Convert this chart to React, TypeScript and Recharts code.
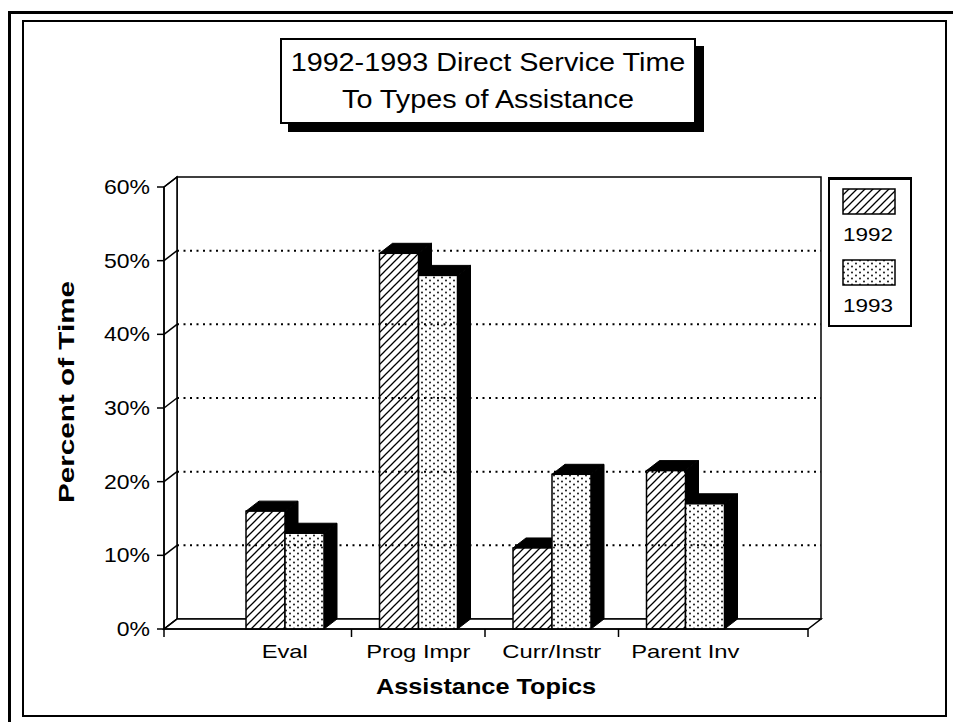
import React from "react"
import {
  Bar,
  BarChart,
  Label,
  Legend,
  ReferenceArea,
  ReferenceLine,
  XAxis,
  YAxis,
} from "recharts"

const topics = ["Eval", "Prog Impr", "Curr/Instr", "Parent Inv"]
const time1992 = [16, 51, 11, 21.5]
const time1993 = [13, 48, 21, 17]
const percentTicks = [0, 10, 20, 30, 40, 50, 60]

const chartData = topics.map((topic, i) => ({
  topic,
  y1992: time1992[i],
  y1993: time1993[i],
}))

const FONT = '"Liberation Sans", Arial, Helvetica, sans-serif'
const W = 953
const H = 722
const MARGIN = { top: 187, right: 145, bottom: 63, left: 104 }
const Y_AXIS_W = 60
const X_AXIS_H = 30
const X_PAD = { left: 54, right: 56 }
const PLOT_W = W - MARGIN.left - Y_AXIS_W - MARGIN.right
const HALF_BAND = (PLOT_W - X_PAD.left - X_PAD.right) / topics.length / 2
// depth of the 3-d look
const DX = 13
const DY = -10

function Patterns() {
  return (
    <svg width={0} height={0} style={{ position: "absolute" }}>
      <defs>
        <pattern id="hatch" patternUnits="userSpaceOnUse" width={8} height={8}>
          <rect width={8} height={8} fill="#fff" />
          <path d="M-2,2 l4,-4 M0,8 l8,-8 M6,10 l4,-4" stroke="#000" strokeWidth={1.3} />
        </pattern>
        <pattern id="dots" patternUnits="userSpaceOnUse" width={8} height={6}>
          <rect width={8} height={6} fill="#fff" />
          <circle cx={2} cy={1.5} r={0.9} fill="#000" />
          <circle cx={6} cy={4.5} r={0.9} fill="#000" />
        </pattern>
      </defs>
    </svg>
  )
}

function Bar3D(props: any) {
  const { x, y, width, height, fill } = props
  if (!height || height <= 0) return null
  const top = `M${x},${y} L${x + DX},${y + DY} L${x + width + DX},${y + DY} L${x + width},${y} Z`
  const side = `M${x + width},${y} L${x + width + DX},${y + DY} L${x + width + DX},${y + height + DY} L${x + width},${y + height} Z`
  return (
    <g>
      <path d={side} fill="#000" stroke="#000" strokeWidth={1} />
      <path d={top} fill="#000" stroke="#000" strokeWidth={1} />
      <rect x={x} y={y} width={width} height={height} fill={fill} stroke="#000" strokeWidth={1.5} />
    </g>
  )
}

// reference area spans the category range only, so widen it by the axis padding
function Walls(props: any) {
  const { y, height } = props
  const x = props.x - X_PAD.left
  const width = props.width + X_PAD.left + X_PAD.right
  const bottom = y + height
  return (
    <g stroke="#000" strokeWidth={1.5}>
      <rect x={x + DX} y={y + DY} width={width} height={height} fill="#fff" />
      <path
        d={`M${x},${y} L${x + DX},${y + DY} L${x + DX},${bottom + DY} L${x},${bottom} Z`}
        fill="#fff"
      />
      <path
        d={`M${x},${bottom} L${x + DX},${bottom + DY} L${x + width + DX},${bottom + DY} L${x + width},${bottom} Z`}
        fill="#fff"
      />
      <line x1={x} y1={bottom} x2={x} y2={bottom + 8} />
      <line x1={x + width} y1={bottom} x2={x + width} y2={bottom + 8} />
    </g>
  )
}

function WallLine(props: any) {
  const { x1, y1, x2, y2, dotted } = props
  return (
    <g>
      <line x1={x1} y1={y1} x2={x1 + DX} y2={y1 + DY} stroke="#000" strokeWidth={1.5} />
      {dotted && (
        <line
          x1={x1 + DX}
          y1={y1 + DY}
          x2={x2 + DX}
          y2={y2 + DY}
          stroke="#000"
          strokeWidth={2}
          strokeDasharray="2 4.5"
        />
      )}
    </g>
  )
}

function PercentTick(props: any) {
  const { x, y, payload } = props
  return (
    <text
      transform={`translate(${x},${y}) scale(1.15,1)`}
      textAnchor="end"
      dominantBaseline="central"
      fontFamily={FONT}
      fontSize={20}
      fill="#000"
    >
      {`${payload.value}%`}
    </text>
  )
}

function TopicTick(props: any) {
  const { x, y, payload, index } = props
  return (
    <g>
      {index < topics.length - 1 && (
        <line
          x1={x + HALF_BAND}
          y1={y}
          x2={x + HALF_BAND}
          y2={y + 8}
          stroke="#000"
          strokeWidth={1.5}
        />
      )}
      <text
        transform={`translate(${x},${y + 23}) scale(1.25,1)`}
        textAnchor="middle"
        dominantBaseline="central"
        fontFamily={FONT}
        fontSize={19}
        fill="#000"
      >
        {payload.value}
      </text>
    </g>
  )
}

function LegendBox({ payload }: any) {
  return (
    <div
      style={{
        boxSizing: "border-box",
        width: 84,
        height: 150,
        border: "2px solid #000",
        borderTopWidth: 3,
        background: "#fff",
        paddingTop: 8,
        fontFamily: FONT,
      }}
    >
      {(payload || []).map((entry: any) => (
        <div key={entry.value} style={{ textAlign: "center", marginBottom: 4 }}>
          <svg width={54} height={27} style={{ display: "block", margin: "0 auto 0 12px" }}>
            <rect x={1} y={1} width={52} height={25} fill={entry.color} stroke="#000" strokeWidth={1.5} />
          </svg>
          <div
            style={{
              fontSize: 18,
              height: 40,
              lineHeight: "40px",
              transform: "scaleX(1.25)",
              marginLeft: -4,
            }}
          >
            {entry.value}
          </div>
        </div>
      ))}
    </div>
  )
}

function TitleBox() {
  return (
    <div
      style={{
        position: "absolute",
        left: 280,
        top: 38,
        width: 416,
        height: 86,
        boxSizing: "border-box",
        border: "2px solid #000",
        boxShadow: "8px 8px 0 0 #000",
        background: "#fff",
        fontFamily: FONT,
        fontSize: 25,
        lineHeight: "37px",
        textAlign: "center",
        paddingTop: 4,
        zIndex: 2,
      }}
    >
      <div style={{ transform: "scaleX(1.15)", whiteSpace: "nowrap" }}>1992-1993 Direct Service Time</div>
      <div style={{ transform: "scaleX(1.15)", whiteSpace: "nowrap" }}>To Types of Assistance</div>
    </div>
  )
}

export default function App() {
  return (
    <div style={{ position: "absolute", left: 0, top: 0, width: W, height: H, background: "#fff", overflow: "hidden" }}>
      <Patterns />
      {/* page frame */}
      <div style={{ position: "absolute", left: 8, top: 11, width: 960, height: 720, borderLeft: "3px solid #000", borderTop: "3px solid #000" }} />
      <div style={{ position: "absolute", left: 22, top: 20, width: 925, height: 697, boxSizing: "border-box", border: "2px solid #000" }} />
      <TitleBox />
      <div style={{ position: "absolute", left: 0, top: 0 }}>
        <BarChart
          width={W}
          height={H}
          data={chartData}
          margin={MARGIN}
          barSize={39}
          barGap={0}
        >
          <XAxis
            dataKey="topic"
            interval={0}
            padding={X_PAD}
            height={X_AXIS_H}
            tickSize={0}
            tickMargin={0}
            tickLine={false}
            axisLine={{ stroke: "#000", strokeWidth: 1.5 }}
            tick={<TopicTick />}
          >
            <Label
              content={(p: any) => {
                const vb = p.viewBox
                return (
                  <text
                    transform={`translate(${vb.x + vb.width / 2},${vb.y + vb.height + 28}) scale(1.15,1)`}
                    textAnchor="middle"
                    dominantBaseline="central"
                    fontFamily={FONT}
                    fontWeight="bold"
                    fontSize={22}
                    fill="#000"
                  >
                    Assistance Topics
                  </text>
                )
              }}
            />
          </XAxis>
          <YAxis
            domain={[0, 60]}
            ticks={percentTicks}
            width={Y_AXIS_W}
            tickSize={7}
            tickMargin={7}
            axisLine={{ stroke: "#000", strokeWidth: 1.5 }}
            tickLine={{ stroke: "#000", strokeWidth: 1.5 }}
            tick={<PercentTick />}
          >
            <Label
              content={(p: any) => {
                const vb = p.viewBox
                return (
                  <text
                    transform={`translate(${vb.x - 38},${vb.y + vb.height / 2 - 16}) rotate(-90) scale(1.35,1)`}
                    textAnchor="middle"
                    dominantBaseline="central"
                    fontFamily={FONT}
                    fontWeight="bold"
                    fontSize={22}
                    fill="#000"
                  >
                    Percent of Time
                  </text>
                )
              }}
            />
          </YAxis>
          <ReferenceArea y1={0} y2={60} shape={<Walls />} />
          {percentTicks.map((v) => (
            <ReferenceLine
              key={v}
              y={v}
              shape={(p: any) => <WallLine {...p} dotted={v > 0 && v < 60} />}
            />
          ))}
          <Legend
            layout="horizontal"
            verticalAlign="middle"
            align="center"
            wrapperStyle={{ left: 828, top: 177, width: 84, height: 150 }}
            content={<LegendBox />}
          />
          <Bar dataKey="y1992" name="1992" fill="url(#hatch)" shape={<Bar3D />} isAnimationActive={false} />
          <Bar dataKey="y1993" name="1993" fill="url(#dots)" shape={<Bar3D />} isAnimationActive={false} />
        </BarChart>
      </div>
    </div>
  )
}
